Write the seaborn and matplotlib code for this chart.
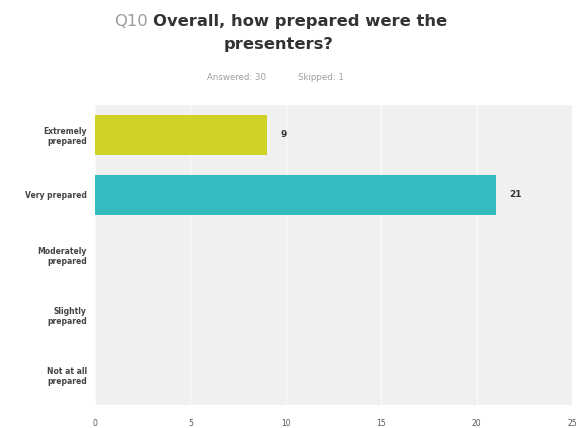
import matplotlib
matplotlib.use("Agg")
import matplotlib.pyplot as plt
import seaborn as sns
import pandas as pd

categories = ["Extremely\nprepared", "Very prepared", "Moderately\nprepared",
              "Slightly\nprepared", "Not at all\nprepared"]
responses = [9, 21, 0, 0, 0]
bar_colors = ["#d0d227", "#33bcbf", "#9e9e9e", "#9e9e9e", "#9e9e9e"]
x_ticks = [0, 5, 10, 15, 20, 25]

df = pd.DataFrame({"answer": categories, "count": responses})

sns.set_style("white")
plt.rcParams["font.family"] = ["DejaVu Sans"]

fig = plt.figure(figsize=(5.76, 4.28), dpi=100)
ax = fig.add_axes([0.165, 0.054, 0.828, 0.701])
ax.set_facecolor("#f0f0f0")

sns.barplot(data=df, x="count", y="answer", hue="answer", palette=bar_colors,
            legend=False, width=0.67, ax=ax, saturation=1, zorder=3, linewidth=0)

ax.set_xlim(0, 25)
ax.set_xticks(x_ticks)
ax.set_xticklabels([str(t) for t in x_ticks], fontsize=5.5, color="#555555")
ax.tick_params(axis="y", labelsize=5.5, labelcolor="#444444", length=0, pad=6)
ax.tick_params(axis="x", length=0, pad=10)
for lbl in ax.get_yticklabels():
    lbl.set_fontweight("bold")
    lbl.set_horizontalalignment("right")
    lbl.set_multialignment("right")
ax.grid(axis="x", color="#fafafa", linewidth=1.0, zorder=0)
ax.set_axisbelow(True)
for s in ax.spines.values():
    s.set_visible(False)
ax.set_xlabel("")
ax.set_ylabel("")

for i, v in enumerate(responses):
    if v > 0:
        ax.text(v + 0.7, i, str(v), va="center", ha="left", fontsize=6.5,
                fontweight="bold", color="#333333")

fig.text(0.257, 0.950, "Q10", fontsize=11.8, color="#9e9e9e", ha="right", va="center")
fig.text(0.265, 0.950, "Overall, how prepared were the", fontsize=11.8,
         fontweight="bold", color="#333333", ha="left", va="center")
fig.text(0.483, 0.895, "presenters?", fontsize=11.8, fontweight="bold",
         color="#333333", ha="center", va="center")
fig.text(0.41, 0.82, "Answered: 30", fontsize=6.2, color="#9e9e9e", ha="center", va="center")
fig.text(0.557, 0.82, "Skipped: 1", fontsize=6.2, color="#9e9e9e", ha="center", va="center")

fig.savefig("out.png", dpi=100, facecolor="white")
